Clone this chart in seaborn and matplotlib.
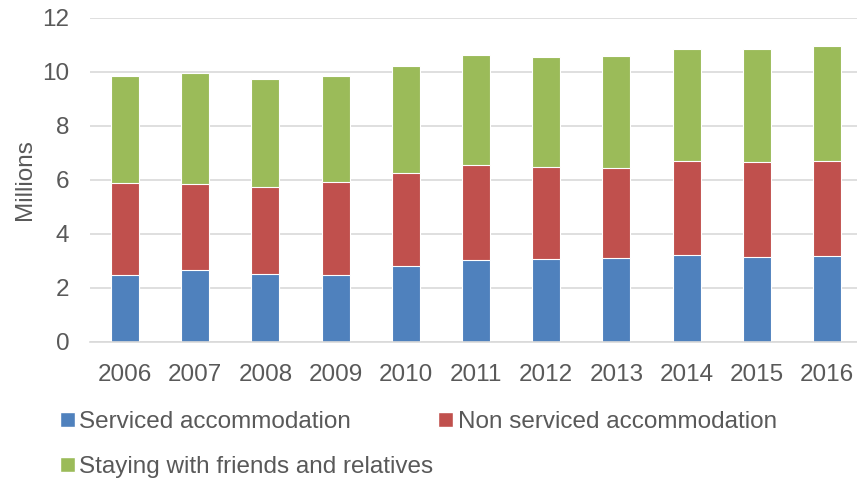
import numpy as np
import pandas as pd
import seaborn as sns
import matplotlib.pyplot as plt
from matplotlib.patches import Patch

# valores (milhões)
anos = ['2006', '2007', '2008', '2009', '2010', '2011', '2012', '2013', '2014', '2015', '2016']
servicado = [2.46, 2.65, 2.51, 2.49, 2.79, 3.01, 3.05, 3.10, 3.20, 3.15, 3.17]
nao_servicado = [3.42, 3.20, 3.23, 3.41, 3.47, 3.55, 3.43, 3.34, 3.48, 3.52, 3.53]
amigos = [3.96, 4.09, 4.01, 3.93, 3.97, 4.06, 4.08, 4.14, 4.18, 4.19, 4.26]

nomes = ['Serviced accommodation', 'Non serviced accommodation', 'Staying with friends and relatives']
cores = ['#4f81bd', '#c0504d', '#9bbb59']
cinza = '#595959'

dados = pd.DataFrame({'Ano': anos, 's': servicado, 'n': nao_servicado, 'a': amigos})
dados['c1'] = dados['s']
dados['c2'] = dados['s'] + dados['n']
dados['c3'] = dados['c2'] + dados['a']

sns.set_style('white')
plt.rcParams['font.family'] = ['Liberation Sans', 'DejaVu Sans']

fig = plt.figure(figsize=(8.57, 4.8), dpi=100)
ax = fig.add_axes([90 / 857, 0.288, 772 / 857, 0.675])

# barras empilhadas: desenha o total e sobrepõe as somas parciais
for col, cor in zip(['c3', 'c2', 'c1'], cores[::-1]):
    sns.barplot(data=dados, x='Ano', y=col, order=anos, color=cor, width=0.4,
                saturation=1, edgecolor='white', linewidth=0.8, ax=ax)

ax.set_ylim(0, 12)
ax.set_yticks(range(0, 13, 2))
ax.set_xlim(-0.5, 10.5)
ax.yaxis.grid(True, color='#d9d9d9', linewidth=1.2)
ax.set_axisbelow(True)
for lado in ['top', 'right', 'left']:
    ax.spines[lado].set_visible(False)
ax.spines['bottom'].set_color('#d9d9d9')
ax.spines['bottom'].set_linewidth(1.2)
ax.tick_params(axis='both', length=0, labelsize=17.5, labelcolor=cinza)
ax.tick_params(axis='y', pad=15)
ax.tick_params(axis='x', pad=16)
ax.set_xlabel('')
ax.set_ylabel('Millions', fontsize=17.5, color=cinza, labelpad=4)

alcas = [Patch(facecolor=cores[0]), Patch(facecolor=cores[2]), Patch(facecolor=cores[1])]
rotulos = [nomes[0], nomes[2], nomes[1]]
fig.legend(alcas, rotulos, loc='upper left', bbox_to_anchor=(60 / 857, 1 - 411 / 480),
           ncol=2, frameon=False, fontsize=17.5, labelcolor=cinza,
           handlelength=0.6, handleheight=0.6, handletextpad=0.2,
           columnspacing=0.2, labelspacing=0.95, borderaxespad=0, borderpad=0)

plt.savefig('out.png', dpi=100)
